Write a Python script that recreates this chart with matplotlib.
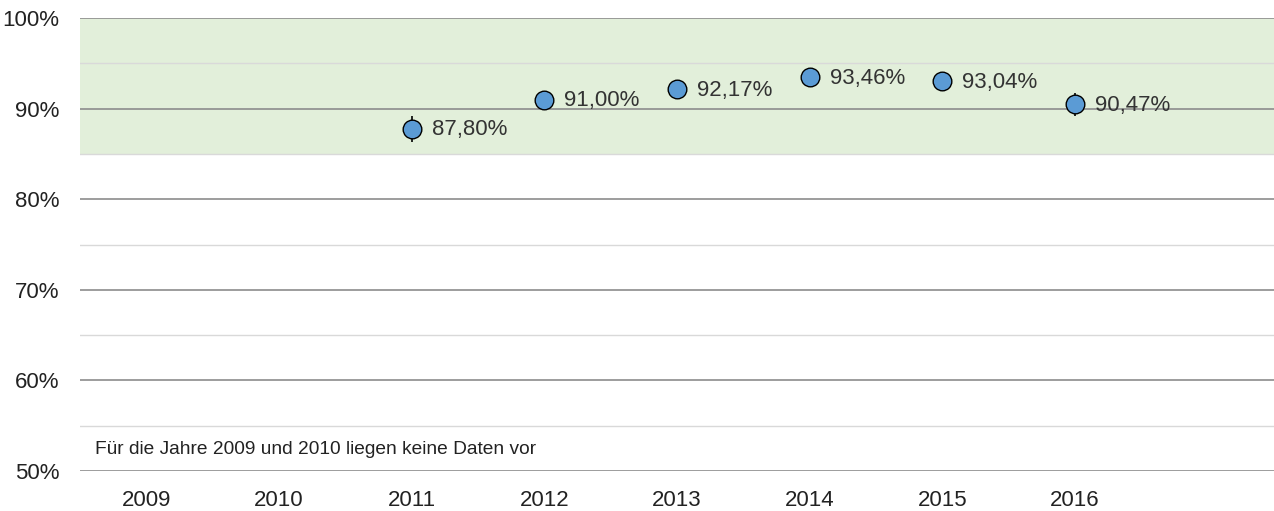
import numpy as np
import matplotlib.pyplot as plt
from matplotlib.ticker import MultipleLocator, FuncFormatter

years = ["2009", "2010", "2011", "2012", "2013", "2014", "2015", "2016"]
data_years = ["2011", "2012", "2013", "2014", "2015", "2016"]
values = [87.80, 91.00, 92.17, 93.46, 93.04, 90.47]
ci_low = [86.3, 90.0, 91.2, 92.5, 92.1, 89.2]
ci_high = [89.2, 91.8, 93.0, 94.2, 93.9, 91.7]
labels = ["87,80%", "91,00%", "92,17%", "93,46%", "93,04%", "90,47%"]
target_low, target_high = 85, 100
note = "Für die Jahre 2009 und 2010 liegen keine Daten vor"

plt.rcParams['font.family'] = ['Liberation Sans', 'DejaVu Sans']

fig = plt.figure(figsize=(12.74, 5.11), dpi=100)
ax = fig.add_axes([80/1274, 40/511, 1 - 80/1274, 453/511])

ax.axhspan(target_low, target_high, color="#e2efda", zorder=0, lw=0)

x = np.array([years.index(y) for y in data_years])
v = np.array(values)
yerr = [v - np.array(ci_low), np.array(ci_high) - v]
ax.errorbar(x, v, yerr=yerr, fmt="none", ecolor="black", elinewidth=1.2, capsize=0, zorder=3)
ax.scatter(x, v, s=180, color="#5b9bd5", edgecolor="black", linewidth=1, zorder=4)
for xi, vi, lab in zip(x, v, labels):
    ax.text(xi + 0.15, vi - 0.15, lab, fontsize=16, color="#333333", va="center", ha="left", zorder=5)

ax.text(-0.39, 52.4, note, fontsize=13.8, color="#222222", va="center", ha="left")

ax.set_xlim(-0.5, 8.5)
ax.set_ylim(50, 100)
ax.set_xticks(range(len(years)))
ax.set_xticklabels(years)
ax.yaxis.set_major_locator(MultipleLocator(10))
ax.yaxis.set_minor_locator(MultipleLocator(5))
ax.yaxis.set_major_formatter(FuncFormatter(lambda val, pos: f"{val:.0f}%"))
ax.grid(axis="y", which="major", color="#8c8c8c", lw=1.2, zorder=1)
ax.grid(axis="y", which="minor", color="#d9d9d9", lw=1.0, zorder=1)
ax.set_axisbelow(True)
for s in ax.spines.values():
    s.set_visible(False)
ax.tick_params(axis="both", which="both", length=0, labelsize=16, labelcolor="#222222")
ax.tick_params(axis="x", pad=14)
ax.tick_params(axis="y", pad=15)

fig.savefig("out.png", dpi=100)
